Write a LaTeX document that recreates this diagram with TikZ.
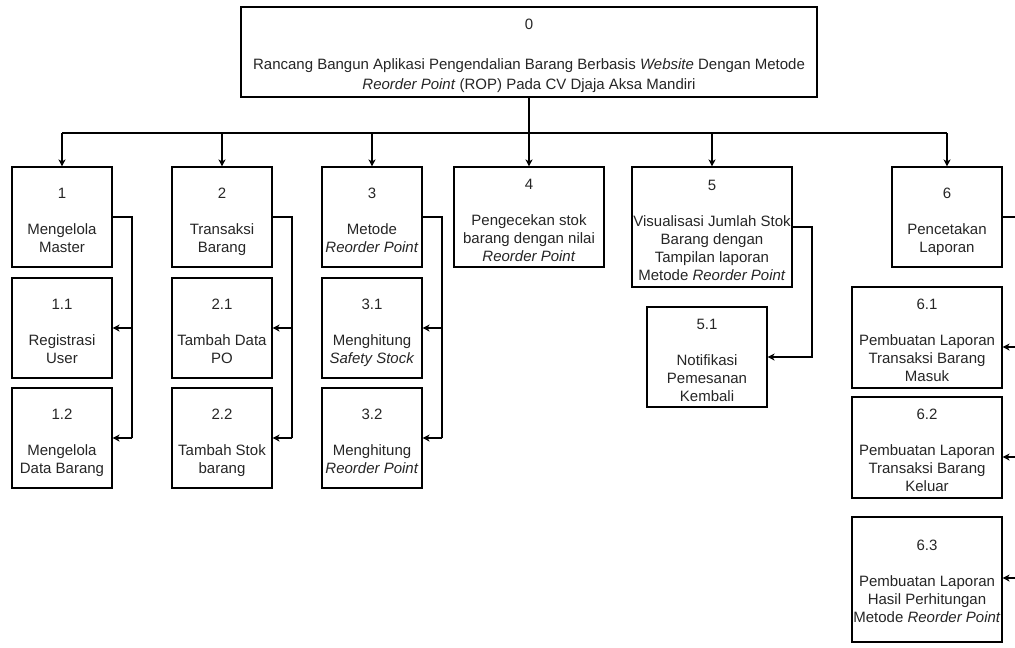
\documentclass[tikz,border=0pt]{standalone}
\usepackage{fontspec}
\setmainfont{Liberation Sans}
\usetikzlibrary{arrows.meta}
% empty last line, pulled up, so the label block sits a little lower in its box
\newcommand{\lift}[1]{\\[-#1]\mbox{}}
\begin{document}
\begin{tikzpicture}[x=1pt,y=-1pt,
  box/.style={draw=black, line width=1.1pt, fill=white, align=center,
    inner sep=0pt, text=black!85,
    font=\fontsize{15}{18}\selectfont},
  link/.style={draw=black, line width=1.1pt},
  arr/.style={link, -{Stealth[length=7pt,width=7pt,inset=2pt]}}]
\clip (0,0) rectangle (1015,648);
\fill[white] (0,0) rectangle (1015,648);

% root
\node[box, line width=1.5pt, minimum width=576pt, minimum height=90pt,
      font=\fontsize{15}{20}\selectfont] (n0) at (529,52)
  {0\\[20pt]Rancang Bangun Aplikasi Pengendalian Barang Berbasis \textit{Website} Dengan Metode\\
   \textit{Reorder Point} (ROP) Pada CV Djaja Aksa Mandiri\lift{24pt}};

% first level
\node[box, minimum width=100pt, minimum height=100pt] (n1) at (62,217) {1\\[18pt]Mengelola\\Master\lift{24pt}};
\node[box, minimum width=100pt, minimum height=100pt] (n2) at (222,217) {2\\[18pt]Transaksi\\Barang\lift{24pt}};
\node[box, minimum width=100pt, minimum height=100pt] (n3) at (372,217) {3\\[18pt]Metode\\\textit{Reorder Point}\lift{24pt}};
\node[box, minimum width=150pt, minimum height=100pt] (n4) at (529,217) {4\\[18pt]Pengecekan stok\\barang dengan nilai\\\textit{Reorder Point}\lift{24pt}};
\node[box, minimum width=160pt, minimum height=120pt] (n5) at (712,227) {5\\[18pt]Visualisasi Jumlah Stok\\Barang dengan\\Tampilan laporan\\Metode \textit{Reorder Point}\lift{24pt}};
\node[box, minimum width=110pt, minimum height=100pt] (n6) at (947,217) {6\\[18pt]Pencetakan\\Laporan\lift{24pt}};

% second level
\node[box, minimum width=100pt, minimum height=100pt] (n11) at (62,328) {1.1\\[18pt]Registrasi\\User\lift{24pt}};
\node[box, minimum width=100pt, minimum height=100pt] (n12) at (62,438) {1.2\\[18pt]Mengelola\\Data Barang\lift{24pt}};
\node[box, minimum width=100pt, minimum height=100pt] (n21) at (222,328) {2.1\\[18pt]Tambah Data\\PO\lift{24pt}};
\node[box, minimum width=100pt, minimum height=100pt] (n22) at (222,438) {2.2\\[18pt]Tambah Stok\\barang\lift{24pt}};
\node[box, minimum width=100pt, minimum height=100pt] (n31) at (372,328) {3.1\\[18pt]Menghitung\\\textit{Safety Stock}\lift{24pt}};
\node[box, minimum width=100pt, minimum height=100pt] (n32) at (372,438) {3.2\\[18pt]Menghitung\\\textit{Reorder Point}\lift{24pt}};
\node[box, minimum width=120pt, minimum height=100pt] (n51) at (707,357) {5.1\\[18pt]Notifikasi\\Pemesanan\\Kembali\lift{24pt}};
\node[box, minimum width=150pt, minimum height=101pt] (n61) at (927,337.5) {6.1\\[18pt]Pembuatan Laporan\\Transaksi Barang\\Masuk\lift{24pt}};
\node[box, minimum width=150pt, minimum height=101pt] (n62) at (927,447.5) {6.2\\[18pt]Pembuatan Laporan\\Transaksi Barang\\Keluar\lift{24pt}};
\node[box, minimum width=150pt, minimum height=125pt] (n63) at (927,579.5) {6.3\\[18pt]Pembuatan Laporan\\Hasil Perhitungan\\Metode \textit{Reorder Point}\lift{22pt}};

% trunk and bus
\coordinate (bus) at (0,133);
\draw[link, line width=2pt] (n0.south) -- (n0.south |- bus);
\draw[link] (n1.north |- bus) -- (n6.north |- bus);
\foreach \n in {n1,n2,n3,n4,n5,n6}
  \draw[arr] (\n.north |- bus) -- (\n.north);

% branch spines
\coordinate (s1) at (132,0);
\coordinate (s2) at (292,0);
\coordinate (s3) at (442,0);
\coordinate (s5) at (812,0);
\coordinate (s6) at (1022,0);

\draw[link] (n1.east) -- (n1.east -| s1) -- (s1 |- n12.east);
\draw[arr] (s1 |- n11.east) -- (n11.east);
\draw[arr] (s1 |- n12.east) -- (n12.east);

\draw[link] (n2.east) -- (n2.east -| s2) -- (s2 |- n22.east);
\draw[arr] (s2 |- n21.east) -- (n21.east);
\draw[arr] (s2 |- n22.east) -- (n22.east);

\draw[link] (n3.east) -- (n3.east -| s3) -- (s3 |- n32.east);
\draw[arr] (s3 |- n31.east) -- (n31.east);
\draw[arr] (s3 |- n32.east) -- (n32.east);

\draw[arr] (n5.east) -- (n5.east -| s5) -- (s5 |- n51.east) -- (n51.east);

\coordinate (e61) at ([yshift=-9.5pt]n61.east);
\coordinate (e62) at ([yshift=-9.5pt]n62.east);
\coordinate (e63) at ([yshift=1.5pt]n63.east);
\draw[link] (n6.east) -- (n6.east -| s6) -- (s6 |- e63);
\draw[arr] (s6 |- e61) -- (e61);
\draw[arr] (s6 |- e62) -- (e62);
\draw[arr] (s6 |- e63) -- (e63);
\end{tikzpicture}
\end{document}
